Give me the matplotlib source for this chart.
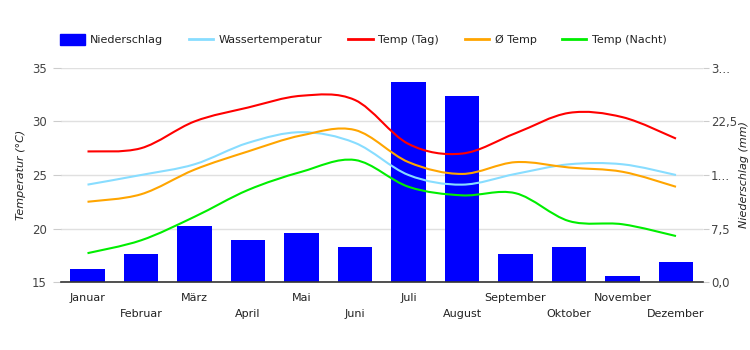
import matplotlib
matplotlib.use("Agg")
import matplotlib.pyplot as plt
from matplotlib.path import Path
from matplotlib.patches import PathPatch, Patch
from matplotlib.lines import Line2D
import numpy as np

plt.rcParams['font.family'] = ['DejaVu Sans']

months = ["Januar", "Februar", "März", "April", "Mai", "Juni", "Juli",
          "August", "September", "Oktober", "November", "Dezember"]
niederschlag = [1.8, 3.9, 7.9, 5.9, 6.9, 4.9, 28.0, 26.0, 3.9, 4.9, 0.8, 2.8]
wasser = [24.1, 25.0, 26.0, 28.0, 29.0, 28.0, 25.0, 24.1, 25.1, 26.0, 26.0, 25.0]
temp_tag = [27.2, 27.5, 30.0, 31.3, 32.4, 32.0, 27.9, 27.0, 28.9, 30.8, 30.4, 28.4]
temp_avg = [22.5, 23.2, 25.5, 27.2, 28.7, 29.2, 26.2, 25.1, 26.2, 25.7, 25.3, 23.9]
temp_nacht = [17.7, 18.9, 21.1, 23.6, 25.3, 26.4, 23.9, 23.1, 23.3, 20.7, 20.4, 19.3]

left_ticks = [15, 20, 25, 30, 35]
right_ticks = [0, 7.5, 15, 22.5, 30]
right_labels = ["0,0", "7,5", "1…", "22,5", "3…"]

x = np.arange(len(months))


def smooth_path(xs, ys, k=0.5):
    # bezier through the points (like a "function" curve type)
    xs = np.asarray(xs, float)
    ys = np.asarray(ys, float)
    n = len(xs)
    verts = [(xs[0], ys[0])]
    codes = [Path.MOVETO]
    for i in range(n - 1):
        i0 = max(i - 1, 0)
        i3 = min(i + 2, n - 1)
        t1 = ((xs[i + 1] - xs[i0]) * k / 2, (ys[i + 1] - ys[i0]) * k / 2)
        t2 = ((xs[i3] - xs[i]) * k / 2, (ys[i3] - ys[i]) * k / 2)
        c1 = (xs[i] + t1[0] * 2 / 3, ys[i] + t1[1] * 2 / 3)
        c2 = (xs[i + 1] - t2[0] * 2 / 3, ys[i + 1] - t2[1] * 2 / 3)
        verts += [c1, c2, (xs[i + 1], ys[i + 1])]
        codes += [Path.CURVE4] * 3
    return Path(verts, codes)


fig = plt.figure(figsize=(7.5, 3.5), dpi=100)
ax2 = fig.add_axes([0.081, 0.194, 0.856, 0.612])  # precipitation (behind)
ax = ax2.twinx()
ax.yaxis.tick_left()
ax.yaxis.set_label_position("left")
ax2.yaxis.tick_right()
ax2.yaxis.set_label_position("right")

# bars
ax2.bar(x, niederschlag, width=0.64, color="#0000ff", zorder=2)
ax2.set_ylim(0, 30)
ax2.set_yticks(right_ticks)
ax2.set_yticklabels(right_labels)
ax2.grid(axis="y", color="#e0e0e0", lw=1, zorder=0)
ax2.set_axisbelow(True)
ax2.set_ylabel("Niederschlag (mm)", style="italic", fontsize=8, color="#222222", labelpad=1)

# lines
series = [(wasser, "#88ddff"), (temp_tag, "#ff0000"), (temp_avg, "#ffa500"), (temp_nacht, "#00ee00")]
for vals, col in series:
    ax.add_patch(PathPatch(smooth_path(x, vals), fill=False, edgecolor=col, lw=1.5, zorder=3))
ax.set_ylim(15, 35)
ax.set_yticks(left_ticks)
ax.set_ylabel("Temperatur (°C)", style="italic", fontsize=8, color="#222222", labelpad=4)

ax.set_xlim(-0.5, 11.5)
ax2.set_xticks(x)
ax2.set_xticklabels([m if i % 2 == 0 else "\n" + m for i, m in enumerate(months)],
                    linespacing=1.75)

for a in (ax, ax2):
    for s in a.spines.values():
        s.set_visible(False)
ax.tick_params(axis="y", colors="#444444", labelsize=8.5, length=6, width=0.8,
               color="#cccccc", pad=4)
ax2.tick_params(axis="y", colors="#444444", labelsize=8.5, length=4, width=0.8,
                color="#cccccc", pad=2)
ax2.tick_params(axis="x", length=0, labelsize=8, colors="#222222", pad=8)
ax.tick_params(axis="x", length=0, labelbottom=False)
ax.axhline(15, color="#333333", lw=1.2, zorder=4, clip_on=False)

handles = [Patch(color="#0000ff"),
           Line2D([], [], color="#88ddff", lw=2),
           Line2D([], [], color="#ff0000", lw=2),
           Line2D([], [], color="#ffa500", lw=2),
           Line2D([], [], color="#00ee00", lw=2)]
labels = ["Niederschlag", "Wassertemperatur", "Temp (Tag)", "Ø Temp", "Temp (Nacht)"]
fig.legend(handles, labels, loc="center left", bbox_to_anchor=(0.067, 0.886), ncol=5,
           frameon=False, fontsize=8, handlelength=2.2, handleheight=1.1,
           columnspacing=2.3, handletextpad=0.5, labelcolor="#222222")

fig.savefig("out.png", dpi=100)
